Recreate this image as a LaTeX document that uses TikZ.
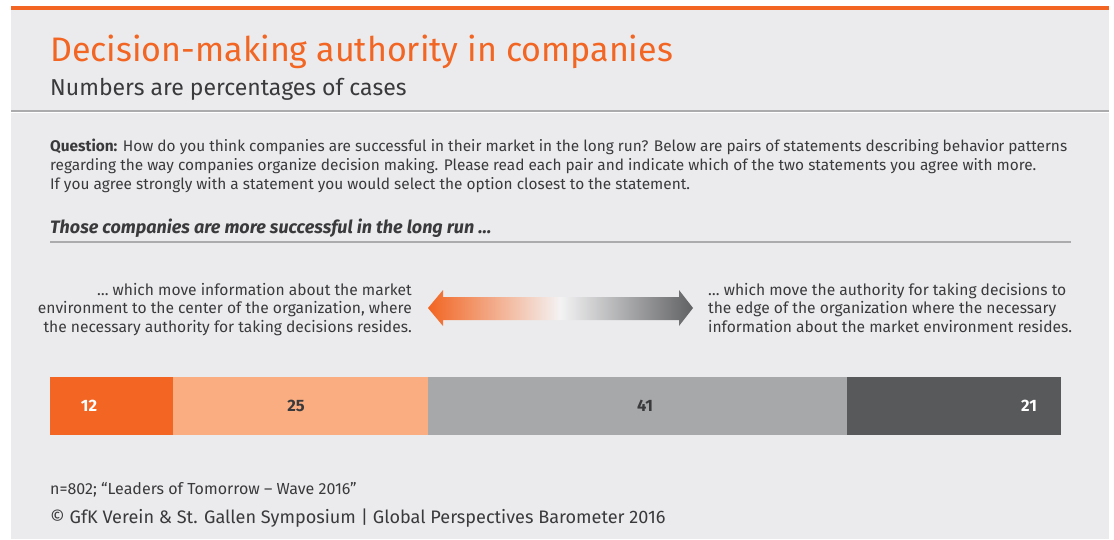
\documentclass[tikz,border=0pt]{standalone}
\usepackage{fontspec}
\setmainfont{Fira Sans}
\definecolor{bg}{HTML}{EBEBED}
\definecolor{gfkorange}{HTML}{F26522}
\definecolor{peach}{HTML}{F9AD81}
\definecolor{midgray}{HTML}{A7A8AA}
\definecolor{darkgray}{HTML}{58595B}
\definecolor{sepgray}{HTML}{ABABAD}
\definecolor{txt}{HTML}{3A3A3C}
\tikzset{
  txtnode/.style={inner sep=0pt, text=txt},
  qline/.style={txtnode, anchor=base west, font=\fontsize{15.4}{18}\selectfont},
  sline/.style={txtnode, font=\fontsize{15.6}{18}\selectfont},
  barlabel/.style={inner sep=0pt, font=\fontsize{16.5}{19}\selectfont\bfseries}
}
\begin{document}
\begin{tikzpicture}[x=1pt,y=-1pt]
\useasboundingbox (0,0) rectangle (1114,539);
\fill[white] (0,0) rectangle (1114,539);
\fill[gfkorange] (11,6) rectangle (1109,10);
\fill[bg] (11,10) rectangle (1109,110);
\fill[sepgray] (11,110) rectangle (1109,112);
\fill[bg] (11,113) rectangle (1109,539);

\node[inner sep=0pt, anchor=base west, text=gfkorange, font=\fontsize{34}{40}\selectfont] (title) at (50,61) {Decision-making authority in companies};
\node[txtnode, anchor=base west, font=\fontsize{23}{27}\selectfont] (subtitle) at (50,95) {Numbers are percentages of cases};

\node[qline] (q1) at (50,151) {\textbf{Question:} How do you think companies are successful in their market in the long run? Below are pairs of statements describing behavior patterns};
\node[qline] (q2) at (50,170) {regarding the way companies organize decision making. Please read each pair and indicate which of the two statements you agree with more.};
\node[qline] (q3) at (50,189) {If you agree strongly with a statement you would select the option closest to the statement.};

\node[txtnode, anchor=base west, font=\fontsize{18}{21}\selectfont\bfseries\itshape] (head) at (50,233) {Those companies are more successful in the long run \dots};
\fill[sepgray] (50,241) rectangle (1071,243);

\node[sline, anchor=base east] (l1) at (412,295) {\dots\ which move information about the market};
\node[sline, anchor=base east] (l2) at (412,313) {environment to the center of the organization, where};
\node[sline, anchor=base east] (l3) at (412,332) {the necessary authority for taking decisions resides.};

\node[sline, anchor=base west] (r1) at (708,295) {\dots\ which move the authority for taking decisions to};
\node[sline, anchor=base west] (r2) at (708,313) {the edge of the organization where the necessary};
\node[sline, anchor=base west] (r3) at (708,332) {information about the market environment resides.};

% double arrow
\shade[left color=gfkorange, right color=bg!60!white]
  (428,308) -- (443,290) -- (443,297) -- (561,297) -- (561,320) -- (443,320) -- (443,326) -- cycle;
\shade[left color=bg!60!white, right color=darkgray!95!white]
  (560,297) -- (679,297) -- (679,290) -- (693,308) -- (679,326) -- (679,320) -- (560,320) -- cycle;

% bars
\fill[gfkorange] (50,377) rectangle (172.5,435);
\fill[peach] (172.5,377) rectangle (428,435);
\fill[midgray] (428,377) rectangle (847,435);
\fill[darkgray] (847,377) rectangle (1061,435);
\node[barlabel, text=white] (v12) at (89,406) {12};
\node[barlabel, text=txt] (v25) at (296,406) {25};
\node[barlabel, text=txt] (v41) at (645,406) {41};
\node[barlabel, text=white] (v21) at (1029,406) {21};

\node[txtnode, anchor=base west, font=\fontsize{16}{19}\selectfont] (note) at (50,494) {n=802; “Leaders of Tomorrow – Wave 2016”};
\node[txtnode, anchor=base west, font=\fontsize{18.1}{21}\selectfont] (copy) at (50,523) {© GfK Verein \& St. Gallen Symposium | Global Perspectives Barometer 2016};
\end{tikzpicture}
\end{document}
